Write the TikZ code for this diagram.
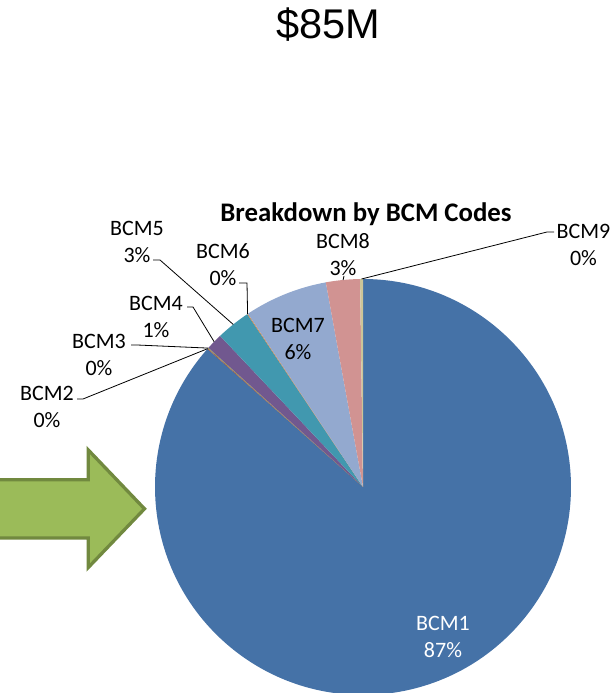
\documentclass[tikz,border=0pt]{standalone}
\usepackage{fontspec}
\setmainfont{Carlito}
\newfontfamily\arialfont{Liberation Sans}
\usetikzlibrary{positioning}

\definecolor{bcmA}{HTML}{4572A7}
\definecolor{bcmB}{HTML}{AA4643}
\definecolor{bcmC}{HTML}{89A54E}
\definecolor{bcmD}{HTML}{71588F}
\definecolor{bcmE}{HTML}{4198AF}
\definecolor{bcmF}{HTML}{DB843D}
\definecolor{bcmG}{HTML}{93A9CF}
\definecolor{bcmH}{HTML}{D19392}
\definecolor{bcmI}{HTML}{CCC598}
\definecolor{arrowfill}{HTML}{9BBB59}
\definecolor{arrowedge}{HTML}{71893F}

\begin{document}
\begin{tikzpicture}[x=1pt, y=1pt,
                    every node/.append style={align=center},
                    lbl/.style={font=\fontsize{22}{27}\selectfont, inner sep=0pt},
                    lead/.style={draw, line width=0.8pt}]

   \useasboundingbox (0,0) rectangle (611,693);
   \coordinate (c) at (363,206);

   % slices, BCM1 runs clockwise from the top
   \foreach \a/\b/\col in {-221.6/90/bcmA, 138.2/138.4/bcmB, 138.0/138.2/bcmC,
                           133.4/138.0/bcmD, 123.8/133.4/bcmE, 123.6/123.8/bcmF,
                           100.3/123.6/bcmG, 90.8/100.3/bcmH, 90/90.8/bcmI}
      \fill[\col] (c) -- ++(\a:208) arc[start angle=\a, end angle=\b, radius=208] -- cycle;

   % points on the rim where the leaders end
   \foreach \n/\a in {2/138.3, 3/138.1, 4/135.7, 5/128.6, 6/123.7, 8/95.5, 9/90.4}
      \path (c) ++(\a:208) coordinate (e\n);

   \node [font=\arialfont\fontsize{41.5}{44}\selectfont, anchor=base] (total) at (328,654) {\$85M};
   \node [font=\bfseries\fontsize{26.8}{30}\selectfont, anchor=base] (title) at (366,471.3) {Breakdown by BCM Codes};

   \node [lbl] (bcm1) at (443,56.5) {\textcolor{white}{BCM1}\\\textcolor{white}{87\%}};
   \node [lbl] (bcm2) at (47,286)   {BCM2\\0\%};
   \node [lbl] (bcm3) at (99,338)   {BCM3\\0\%};
   \node [lbl] (bcm4) at (156,376.5) {BCM4\\1\%};
   \node [lbl] (bcm5) at (137,451.5) {BCM5\\3\%};
   \node [lbl] (bcm6) at (223,428.5) {BCM6\\0\%};
   \node [lbl] (bcm7) at (298,354)   {BCM7\\6\%};
   \node [lbl] (bcm8) at (343,438.5) {BCM8\\3\%};
   \node [lbl] (bcm9) at (583.5,448.5) {BCM9\\0\%};

   % leader lines
   \coordinate (s2) at (77,294);   \coordinate (s3) at (131,348);
   \coordinate (s4) at (187,386);  \coordinate (s5) at (153,433);
   \coordinate (s6) at (239,410);  \coordinate (s8) at (344,417);
   \coordinate (s9) at (554,461);
   \draw[lead] (s2) -- ++(6,0) -- (e2);
   \draw[lead] (s3) -- ++(6,0) -- (e3);
   \draw[lead] (s4) -- ++(6,0) -- (e4);
   \draw[lead] (s5) -- ++(7,0) -- (e5);
   \draw[lead] (s6) -- ++(8,0) -- (e6);
   \draw[lead] (s8) -- (e8);
   \draw[lead] (s9) -- ++(-7,0) -- (e9);

   % big green arrow pointing at the pie
   \draw[line width=3.3pt, draw=arrowedge, fill=arrowfill, line join=miter]
        (-10,213.3) -- (88.3,213.3) -- (88.3,243) -- (144.5,184.2)
        -- (88.3,125.5) -- (88.3,155) -- (-10,155) -- cycle;
\end{tikzpicture}
\end{document}
